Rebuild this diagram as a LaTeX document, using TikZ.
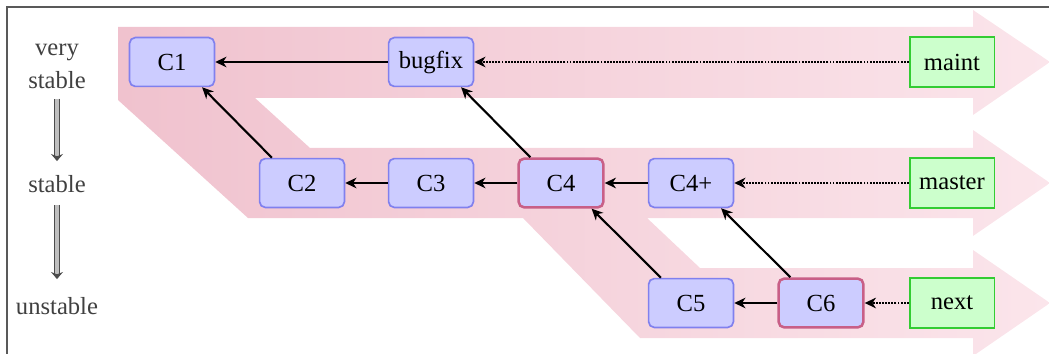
\documentclass[tikz,border=0pt]{standalone}
\usepackage{fontspec}
\setmainfont{Liberation Serif}
\usepackage{xcolor}
\usepackage{tikz}
\usetikzlibrary{arrows.meta}

\definecolor{commitfill}{RGB}{204,204,255}
\definecolor{commitline}{RGB}{128,128,238}
\definecolor{hotline}{RGB}{200,95,135}
\definecolor{branchfill}{RGB}{204,255,204}
\definecolor{branchline}{RGB}{51,204,51}
\definecolor{bandleft}{RGB}{240,194,206}
\definecolor{bandright}{RGB}{251,229,235}

\begin{document}
\begin{tikzpicture}[x=0.025cm,y=-0.025cm]
                \tikzstyle{commit}=[draw=commitline,fill=commitfill,rounded corners=4pt,line width=1.2pt,minimum width=2.12cm,minimum height=1.22cm,font=\fontsize{17.5}{20}\selectfont]
                \tikzstyle{hot}=[draw=hotline,line width=1.8pt]
                \tikzstyle{branch}=[draw=branchline,fill=branchfill,line width=1.3pt,minimum width=2.12cm,minimum height=1.24cm,font=\fontsize{17.5}{20}\selectfont]
                \tikzstyle{level}=[text=black!75,inner sep=0pt,align=center,font=\fontsize{17.5}{23.5}\selectfont]
                \tikzstyle{parent}=[-{Stealth[length=8pt,width=7.5pt,inset=2.5pt]},line width=1.5pt]
                \tikzstyle{ref}=[parent,dash pattern=on 1.3pt off 0.9pt,line width=1.7pt]
                \tikzstyle{down}=[draw=gray!60!black,double=gray!50,double distance=2.4pt,line width=0.6pt,-{Stealth[length=5pt,width=8.5pt]}]
                \newcommand\commitnode[5][]{\node[commit,#1] at (#2,#3) (#4) {#5};}
                \newcommand\branchnode[4]{\node[branch] at (#1,#2) (#3) {#4};}
                \clip (0,0) rectangle (1049,354);
                % stability bands
                \shade[left color=bandleft,right color=bandright]
                    (118,27) -- (973,27) -- (973,10) -- (1050,62) -- (973,115) -- (973,98) -- (255,98) -- (310,148) -- (310,218) -- (248,218) -- (118,100) -- cycle
                    (300,148) -- (973,148) -- (973,130) -- (1050,183) -- (973,236) -- (973,218) -- (647,218) -- (700,268) -- (700,338) -- (640,338) -- (523,218) -- (300,218) -- cycle
                    (690,268) -- (973,268) -- (973,250) -- (1050,303) -- (973,356) -- (973,338) -- (690,338) -- cycle;
                \draw[gray!70!black,line width=0.8pt] (7,354) -- (7,7) -- (1049,7);
                \node[level] (vs) at (57,66) {very\\stable};
                \node[level] (st) at (57,184) {stable};
                \node[level] (us) at (57,306) {unstable};
                \draw[down,shorten <=0.25cm,shorten >=0.35cm] (vs) -- (st);
                \draw[down,shorten <=0.3cm,shorten >=0.45cm] (st) -- (us);
                \commitnode{172}{62}{c1}{C1}
                \commitnode{431}{62}{bugfix}{bugfix}
                \commitnode{302}{183}{c2}{C2}
                \commitnode{431}{183}{c3}{C3}
                \commitnode[hot]{561}{183}{c4}{C4}
                \commitnode{691}{183}{c4p}{C4+}
                \commitnode{691}{303}{c5}{C5}
                \commitnode[hot]{821}{303}{c6}{C6}
                \branchnode{952}{62}{maint}{maint}
                \branchnode{952}{183}{master}{master}
                \branchnode{952}{303}{next}{next}
                \draw[parent] (bugfix) -- (c1);
                \draw[parent] (c2.140) -- (c1.-40);
                \draw[parent] (c3) -- (c2);
                \draw[parent] (c4) -- (c3);
                \draw[parent] (c4.140) -- (bugfix.-40);
                \draw[parent] (c4p) -- (c4);
                \draw[parent] (c5.140) -- (c4.-40);
                \draw[parent] (c6) -- (c5);
                \draw[parent] (c6.140) -- (c4p.-40);
                \draw[ref] (maint) -- (bugfix);
                \draw[ref] (master) -- (c4p);
                \draw[ref] (next) -- (c6);
            \end{tikzpicture}
\end{document}
